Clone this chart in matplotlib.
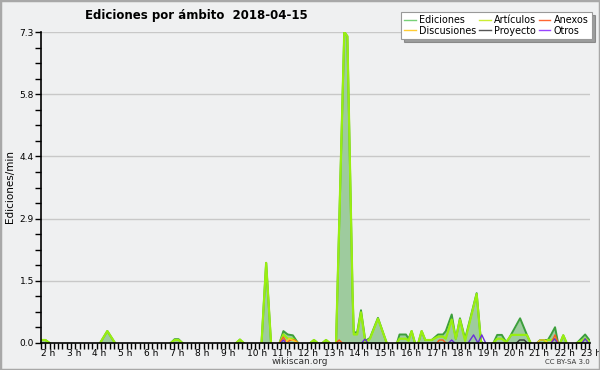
import numpy as np
import matplotlib
matplotlib.use("Agg")
import matplotlib.pyplot as plt
from matplotlib.lines import Line2D
from matplotlib.patches import Rectangle
from matplotlib.ticker import MultipleLocator, FixedLocator

# ---- data (hour of day, edits per minute) ----
ediciones_t = [2.0, 2.17, 2.33, 4.3, 4.58, 4.88, 7.05, 7.2, 7.35, 7.5, 9.6, 9.74, 9.88,
               10.58, 10.76, 10.95, 11.28, 11.43, 11.6, 11.8, 12.0, 12.48, 12.62, 12.76,
               12.95, 13.09, 13.23, 13.48, 13.8, 13.92, 14.12, 14.17, 14.3, 14.45,
               14.62, 14.8, 15.11, 15.45, 15.85, 15.95, 16.2, 16.3, 16.42, 16.55, 16.68,
               16.81, 16.95, 17.2, 17.45, 17.64, 17.75, 17.98, 18.14, 18.3, 18.5, 18.95,
               19.12, 19.2, 19.6, 19.75, 19.93, 20.1, 20.2, 20.64, 20.9, 21.05, 21.3,
               21.42, 21.6, 21.72, 21.85, 22.0, 22.12, 22.2, 22.32, 22.45, 22.85, 23.17, 23.36]
ediciones_v = [0.07, 0.07, 0, 0, 0.28, 0, 0, 0.09, 0.09, 0, 0, 0.08, 0,
               0, 1.88, 0, 0, 0.28, 0.2, 0.18, 0, 0, 0.07, 0,
               0, 0.07, 0, 0, 7.3, 7.2, 1.2, 0.25, 0.25, 0.77,
               0.05, 0.12, 0.59, 0, 0, 0.2, 0.2, 0.1, 0.28, 0, 0,
               0.28, 0.07, 0.07, 0.2, 0.2, 0.28, 0.67, 0.1, 0.58, 0.1, 1.17,
               0.03, 0, 0, 0.19, 0.19, 0.02, 0.1, 0.58, 0.2, 0, 0,
               0.07, 0.07, 0.07, 0.2, 0.37, 0, 0, 0.18, 0, 0, 0.2, 0.05]

articulos_t = [2.0, 2.17, 2.33, 4.3, 4.58, 4.88, 7.05, 7.2, 7.35, 7.5, 9.6, 9.74, 9.88,
               10.58, 10.76, 10.95, 11.28, 11.43, 11.6, 11.8, 12.0, 12.48, 12.62, 12.76,
               12.95, 13.09, 13.23, 13.48, 13.8, 13.92, 14.12, 14.17, 14.3, 14.45,
               14.62, 14.8, 15.11, 15.45, 15.85, 15.95, 16.2, 16.3, 16.42, 16.55, 16.68,
               16.81, 16.95, 17.2, 17.45, 17.64, 17.75, 17.98, 18.14, 18.3, 18.5, 18.95,
               19.12, 19.6, 19.75, 19.93, 20.1, 20.3, 20.9, 21.05, 21.55, 21.72, 21.85,
               22.0, 22.12, 22.2, 22.32, 22.45, 22.85, 23.17, 23.36]
articulos_v = [0.07, 0.07, 0, 0, 0.28, 0, 0, 0.07, 0.07, 0, 0, 0.08, 0,
               0, 1.88, 0, 0, 0.2, 0.1, 0.1, 0, 0, 0.07, 0,
               0, 0.07, 0, 0, 7.3, 7.2, 1.2, 0.2, 0.2, 0.72,
               0, 0.1, 0.57, 0, 0, 0.1, 0.1, 0.05, 0.28, 0, 0,
               0.28, 0.07, 0.07, 0.15, 0.15, 0.1, 0.55, 0.1, 0.55, 0.05, 1.15,
               0, 0, 0.1, 0.1, 0.02, 0.19, 0.19, 0, 0, 0.07, 0.07,
               0.1, 0, 0, 0.18, 0, 0, 0.1, 0.02]

anexos_t = [11.28, 11.43, 11.55, 11.72, 11.88, 12.0, 13.48, 13.6, 13.72,
            17.4, 17.5, 17.64, 17.75, 21.85, 22.0, 22.12]
anexos_v = [0, 0.14, 0.02, 0.07, 0.07, 0, 0, 0.07, 0,
            0, 0.07, 0.07, 0, 0, 0.19, 0]

discusiones_t = [11.5, 11.65, 11.85, 12.0, 21.3, 21.42, 21.6, 21.72]
discusiones_v = [0, 0.1, 0.05, 0, 0, 0.07, 0.07, 0]

proyecto_t = [20.5, 20.62, 20.8, 20.92]
proyecto_v = [0, 0.07, 0.07, 0]

otros_t = [11.33, 11.43, 11.53, 14.48, 14.6, 14.72, 17.85, 17.98, 18.1,
           18.62, 18.83, 19.0, 19.15, 19.3, 21.85, 21.98, 22.1, 23.05, 23.17, 23.3]
otros_v = [0, 0.07, 0, 0, 0.09, 0, 0, 0.07, 0,
           0, 0.19, 0, 0.19, 0, 0, 0.1, 0, 0, 0.1, 0]

hour_labels = [f"{h} h" for h in range(2, 24)]
ytick_vals = [0.0, 1.46, 2.92, 4.38, 5.84, 7.3]
ytick_labels = ["0.0", "1.5", "2.9", "4.4", "5.8", "7.3"]


def broken(t, v):
    """Insert gaps where a segment lies on the zero baseline."""
    xs, ys = [], []
    for i in range(len(t)):
        if i > 0 and v[i] == 0 and v[i - 1] == 0:
            xs.append(np.nan)
            ys.append(np.nan)
        xs.append(t[i])
        ys.append(v[i])
    return np.array(xs, float), np.array(ys, float)


BG = "#eff0f1"
fig = plt.figure(figsize=(6.0, 3.7), dpi=100, facecolor=BG)
ax = fig.add_axes([41 / 600, 27 / 370, 549 / 600, 311 / 370], facecolor=BG)

# grid
for yv in ytick_vals[1:]:
    ax.axhline(yv, color="#c8c8c8", lw=1.0, zorder=0)

# Ediciones area
ax.fill_between(ediciones_t, ediciones_v, 0, color="#9ecb9e", lw=0, zorder=1)
x, y = broken(ediciones_t, ediciones_v)
ax.plot(x, y, color="#3c9f3c", lw=1.4, zorder=2)
x, y = broken(articulos_t, articulos_v)
ax.plot(x, y, color="#99ee11", lw=1.6, zorder=3)
for tt, vv, c in [(anexos_t, anexos_v, "#ff5a1f"),
                  (discusiones_t, discusiones_v, "#ffcc22"),
                  (proyecto_t, proyecto_v, "#333333"),
                  (otros_t, otros_v, "#6a2fd8")]:
    x, y = broken(tt, vv)
    ax.plot(x, y, color=c, lw=1.0, zorder=4)

ax.set_xlim(2.0, 23.36)
ax.set_ylim(0, 7.3)

for s in ["top", "right"]:
    ax.spines[s].set_visible(False)
for s in ["left", "bottom"]:
    ax.spines[s].set_color("black")
    ax.spines[s].set_linewidth(1.2)
    ax.spines[s].set_zorder(6)

ax.xaxis.set_major_locator(FixedLocator(list(range(2, 24))))
ax.set_xticklabels(hour_labels, ha="left", fontsize=6.5)
ax.xaxis.set_minor_locator(MultipleLocator(1 / 6))
ax.tick_params(axis="x", which="both", direction="out", length=4, width=1, pad=0,
               color="black")
for lab in ax.get_xticklabels():
    lab.set_horizontalalignment("left")

ax.yaxis.set_major_locator(FixedLocator(ytick_vals))
ax.set_yticklabels(ytick_labels, fontsize=6.5)
ax.yaxis.set_minor_locator(MultipleLocator(7.3 / 20))
ax.tick_params(axis="y", which="both", direction="out", length=4, width=1, pad=1,
               color="black")

fig.text(10 / 600, 1 - 187 / 370, "Ediciones/min", fontsize=7.5, rotation=90,
         ha="center", va="center")
fig.text(85 / 600, 1 - 15 / 370, "Ediciones por ámbito  2018-04-15", fontsize=8.5,
         fontweight="bold", va="center", ha="left")
fig.text(300 / 600, 1 - 361 / 370, "wikiscan.org", fontsize=6.5, ha="center", va="center",
         color="#333333")
fig.text(590 / 600, 1 - 362 / 370, "CC BY-SA 3.0", fontsize=5, ha="right", va="center",
         color="#333333")

handles = [Line2D([], [], color="#77d177", lw=1),
           Line2D([], [], color="#ffcc33", lw=1),
           Line2D([], [], color="#ccee33", lw=1),
           Line2D([], [], color="#555555", lw=1),
           Line2D([], [], color="#ff6633", lw=1),
           Line2D([], [], color="#9944ff", lw=1)]
labels = ["Ediciones", "Discusiones", "Artículos", "Proyecto", "Anexos", "Otros"]
leg = fig.legend(handles, labels, ncol=3, loc="upper right",
                 bbox_to_anchor=(592 / 600, 1 - 12 / 370), fontsize=6.9,
                 frameon=True, fancybox=False, shadow=True, handlelength=1.2,
                 handletextpad=0.35, columnspacing=0.3, labelspacing=0.05,
                 borderpad=0.35, borderaxespad=0)
leg.get_frame().set_edgecolor("#999999")
leg.get_frame().set_facecolor("white")
leg.get_frame().set_linewidth(0.8)

fig.patches.append(Rectangle((0, 0), 1, 1, transform=fig.transFigure, fill=False,
                             edgecolor="#a8a8a8", lw=2.5))

fig.savefig("out.png", dpi=100, facecolor=BG)
